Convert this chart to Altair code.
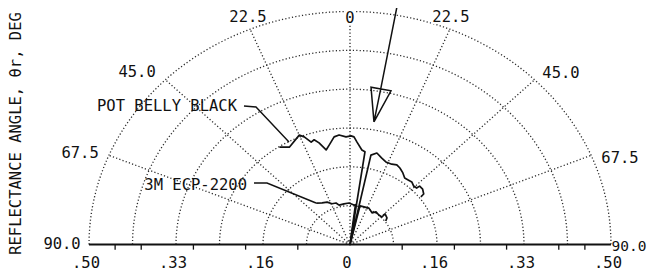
import altair as alt
import numpy as np
import pandas as pd

# ---------------- data (polar: theta in degrees from vertical, r in reflectance units) -------------
pbb_theta = [-32.9, -29.1, -22.5, -20.8, -18.7, -17.0, -15.2, -12.7, -10.6, -7.5, -5.1, -1.9,
             0.5, 1.9, 3.5, 6.4, 8.2, 8.5, 12.0, 11.8, 14.7, 18.2, 21.2, 24.9, 27.7, 30.2,
             33.4, 36.3, 39.1, 41.4, 44.2, 46.5, 46.8, 49.5, 52.5, 53.0]
pbb_r = [0.249, 0.239, 0.254, 0.247, 0.232, 0.235, 0.226, 0.208, 0.217, 0.233, 0.236, 0.231,
         0.233, 0.231, 0.220, 0.204, 0.201, 0.0, 0.0, 0.196, 0.203, 0.195, 0.190, 0.190, 0.193, 0.190,
         0.184, 0.177, 0.178, 0.179, 0.175, 0.176, 0.183, 0.183, 0.178, 0.170]

m3_theta = [-36.1, -30.9, -25.7, -21.6, -16.7, -13.9, -7.5, -1.2, 5.1, 7.0, 7.0, 11.0,
            13.0, 18.4, 24.9, 31.8, 35.4, 41.1, 46.0, 45.6, 51.1, 53.7]
m3_r = [0.110, 0.104, 0.101, 0.094, 0.093, 0.087, 0.088, 0.089, 0.085, 0.086, 0.0, 0.0,
        0.085, 0.085, 0.086, 0.080, 0.086, 0.084, 0.085, 0.094, 0.091, 0.085]

# incident-beam arrow (shaft, centre line, arrow head outline)
arrow_theta = [10.0, 10.0, 9.9, 6.8, 13.4, 9.9]
arrow_r = [0.56, 0.339, 0.267, 0.340, 0.339, 0.267]

ring_values = [1 / 12, 2 / 12, 3 / 12, 4 / 12, 5 / 12, 6 / 12]
spoke_angles = [-67.5, -45.0, -22.5, 0.0, 22.5, 45.0, 67.5]

tick_minor = [-0.45, -0.4, -0.3, -0.2, -0.1, 0.1, 0.2, 0.3, 0.4, 0.45]

xtick_values = [-0.5, -1 / 3, -1 / 6, 0.0, 1 / 6, 1 / 3, 0.5]
xtick_labels = [".50", ".33", ".16", "0", ".16", ".33", ".50"]

angle_labels = ["0", "22.5", "22.5", "45.0", "45.0", "67.5", "67.5", "90.0"]
angle_label_x = [0.0, -0.1954, 0.1935, -0.4080, 0.4042, -0.5172, 0.5172, -0.5517]
angle_label_y = [0.4860, 0.4882, 0.4882, 0.3702, 0.3680, 0.1964, 0.1856, 0.0010]
edge_label = ["90.0"]
edge_label_x = [0.568]
edge_label_y = [-0.005]

annot_text = ["POT BELLY BLACK", "3M ECP-2200"]
annot_x = [-0.2165, -0.1973]
annot_y = [0.2972, 0.1277]

leader_id = ["pbb", "pbb", "pbb", "m3", "m3", "m3"]
leader_x = [-0.2031, -0.1801, -0.1169, -0.1839, -0.1590, -0.0651]
leader_y = [0.2972, 0.2951, 0.2200, 0.1320, 0.1320, 0.0891]

Y_TITLE = "REFLECTANCE ANGLE, θr, DEG"

# ---------------- tables ----------------
def series(thetas, rs, name):
    return pd.DataFrame({"theta": thetas, "r": rs, "s": name, "i": range(len(thetas))})

curves = pd.concat([series(pbb_theta, pbb_r, "pbb"), series(m3_theta, m3_r, "m3")])
arrow = series(arrow_theta, arrow_r, "arrow")

sweep = np.arange(-90, 90.01, 1.5)
rings = pd.DataFrame([{"theta": t, "r": rv, "ring": k, "i": j}
                      for k, rv in enumerate(ring_values) for j, t in enumerate(sweep)])
spokes = pd.DataFrame([{"theta": a, "r": rv, "spoke": k, "i": j}
                       for k, a in enumerate(spoke_angles) for j, rv in enumerate([0.0, 0.5])])

base = pd.DataFrame({"x": [-0.5], "x2": [0.5], "y": [0.0]})
minor = pd.DataFrame({"x": tick_minor, "y": 0.0, "y2": -0.011})
xt = pd.DataFrame({"px": xtick_values, "py": -0.0397, "t": xtick_labels})
al = pd.DataFrame({"px": angle_label_x, "py": angle_label_y, "t": angle_labels})
el = pd.DataFrame({"px": edge_label_x, "py": edge_label_y, "t": edge_label})
an = pd.DataFrame({"px": annot_x, "py": annot_y, "t": annot_text})
ld = pd.DataFrame({"px": leader_x, "py": leader_y, "s": leader_id, "i": range(len(leader_x))})

# ---------------- scales ----------------
W, H = 619, 266
xs = alt.Scale(domain=[-0.6169, 0.5690], nice=False, zero=False)
ys = alt.Scale(domain=[-0.0633, 0.5075], nice=False, zero=False)
FONT = "DejaVu Sans Mono"
yaxis = alt.Axis(title=Y_TITLE, labels=False, ticks=False, domain=False, grid=False,
                 titleX=-13, titleY=125, titleAngle=270, titleAlign="center",
                 titleBaseline="middle", titleFont=FONT, titleFontSize=15.5,
                 titleFontWeight="normal", titleColor="#111")


def X(f="px"):
    return alt.X(f"{f}:Q", scale=xs, axis=None)


def Y(f="py"):
    return alt.Y(f"{f}:Q", scale=ys, axis=yaxis)


def polar(df):
    return alt.Chart(df).transform_calculate(
        px="datum.r * sin(datum.theta * PI / 180)",
        py="datum.r * cos(datum.theta * PI / 180)",
    )


DOT = dict(color="#2a2a2a", strokeWidth=1.3, strokeDash=[1.2, 2.2])

ring_layer = polar(rings).mark_line(**DOT).encode(
    x=X(), y=Y(), detail="ring:N", order="i:Q")
spoke_layer = polar(spokes).mark_line(**DOT).encode(
    x=X(), y=Y(), detail="spoke:N", order="i:Q")

base_layer = alt.Chart(base).mark_rule(color="#111", strokeWidth=2).encode(
    x=X("x"), x2="x2:Q", y=Y("y"))
minor_layer = alt.Chart(minor).mark_rule(color="#111", strokeWidth=1.3).encode(
    x=X("x"), y=Y("y"), y2="y2:Q")

curve_layer = polar(curves).mark_line(color="#111", strokeWidth=1.7, strokeJoin="round").encode(
    x=X(), y=Y(), detail="s:N", order="i:Q")
arrow_layer = polar(arrow).mark_line(color="#111", strokeWidth=1.5).encode(
    x=X(), y=Y(), order="i:Q")
leader_layer = alt.Chart(ld).mark_line(color="#111", strokeWidth=1.4).encode(
    x=X(), y=Y(), detail="s:N", order="i:Q")

TXT = dict(font=FONT, fontSize=15.5, color="#111")
xt_layer = alt.Chart(xt).mark_text(dx=-3, **TXT).encode(x=X(), y=Y(), text="t:N")
al_halo = alt.Chart(al).mark_text(stroke="white", strokeWidth=4, **TXT).encode(
    x=X(), y=Y(), text="t:N")
al_layer = alt.Chart(al).mark_text(**TXT).encode(x=X(), y=Y(), text="t:N")
el_layer = alt.Chart(el).mark_text(align="right", font=FONT, fontSize=14.5, color="#111").encode(
    x=X(), y=Y(), text="t:N")
an_layer = alt.Chart(an).mark_text(align="right", **TXT).encode(x=X(), y=Y(), text="t:N")

chart = alt.layer(
    ring_layer, spoke_layer, base_layer, minor_layer, curve_layer, arrow_layer,
    leader_layer, xt_layer, al_halo, al_layer, el_layer, an_layer,
).properties(
    width=W, height=H,
    autosize=alt.AutoSizeParams(type="none"),
    padding={"left": 20, "top": 0, "right": 0, "bottom": 0},
    background="white",
).configure_view(stroke=None)

chart.save("out.html", embed_options={"renderer": "svg", "actions": False})
